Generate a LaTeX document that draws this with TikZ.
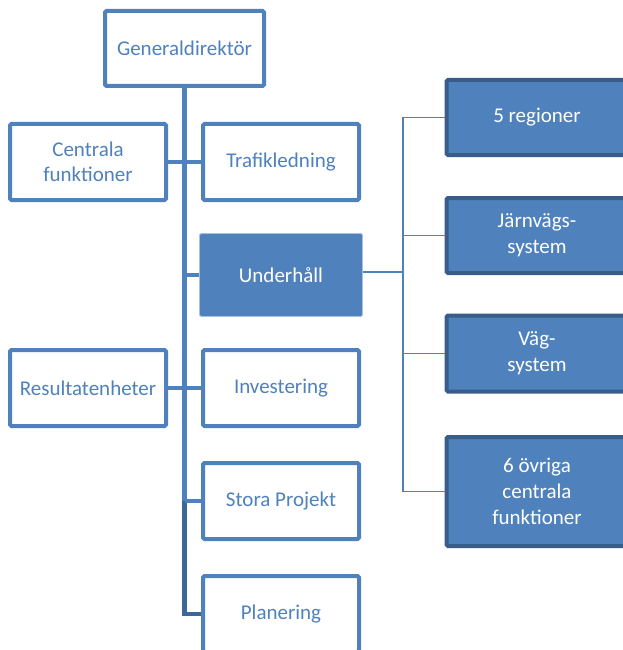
\documentclass[tikz,border=0pt]{standalone}
\usepackage{fontspec}
\setmainfont{Carlito}
\usetikzlibrary{positioning}
\definecolor{accent}{HTML}{4F81BD}
\definecolor{accentdark}{HTML}{385D8A}
\definecolor{trunkdark}{HTML}{3D6899}
\definecolor{accentlight}{HTML}{A9C1E0}

\begin{document}
\begin{tikzpicture}[x=1pt,y=-1pt,on grid,node distance=113pt,
  every node/.style={font=\fontsize{21}{25}\selectfont,align=center},
  unit/.style={draw=accent,text=accent,fill=white,line width=4pt,rounded corners=1.5pt,
    minimum width=156pt,minimum height=76pt,inner sep=2pt},
  focus/.style={draw=accentlight,fill=accent,text=white,line width=0.8pt,rounded corners=1.5pt,
    minimum width=163pt,minimum height=83pt},
  sub/.style={draw=accentdark,fill=accent,text=white,line width=4pt,rounded corners=1.5pt,
    minimum width=181pt,minimum height=75pt,font=\fontsize{21}{26}\selectfont},
  trunk/.style={draw=accent,line width=4.5pt},
  link/.style={draw=accent,line width=4pt},
  bus/.style={draw=accent,line width=1.6pt}]
  \useasboundingbox (0,0) rectangle (622,650);

  \node[unit,minimum width=159pt,minimum height=75pt] (gd) at (184.5,48.5) {Generaldirektör};
  \node[unit] (cf) at (88,162) {Centrala\\funktioner};
  \node[unit] (tl) at (281,162) {Trafikledning};
  \node[focus] (uh) [below=of tl] {Underhåll};
  \node[unit] (inv) [below=of uh] {Investering};
  \node[unit] (res) [below=226pt of cf] {Resultatenheter};
  \node[unit] (sp) [below=of inv] {Stora Projekt};
  \node[unit] (plan) [below=of sp] {Planering};

  \node[sub] (reg) at (537,117.5) {5 regioner};
  \node[sub] (jv) [below=118pt of reg] {Järnvägs-\\system};
  \node[sub,minimum height=76pt] (vs) [below=118pt of jv] {Väg-\\system};
  \node[sub,minimum height=109pt] (ovr) [below=138pt of vs] {6 övriga\\centrala\\funktioner};

  \draw[trunk] (gd.south) -- (gd.south |- sp.west);
  \draw[trunk,draw=trunkdark] (gd.south |- sp.west) |- (plan.west);
  \draw[link] (cf.east) -- (tl.west);
  \draw[link] (res.east) -- (inv.west);
  \draw[link] (uh.west) -- (uh.west -| gd.south);
  \draw[link] (sp.west) -- (sp.west -| gd.south);

  \coordinate (hub) at (403,272);
  \draw[bus] (uh.east |- hub) -- (hub);
  \draw[bus] (reg.west) -| (hub) |- (ovr.west);
  \draw[bus] (jv.west) -- (jv.west -| hub);
  \draw[bus] (vs.west) -- (vs.west -| hub);
\end{tikzpicture}
\end{document}
